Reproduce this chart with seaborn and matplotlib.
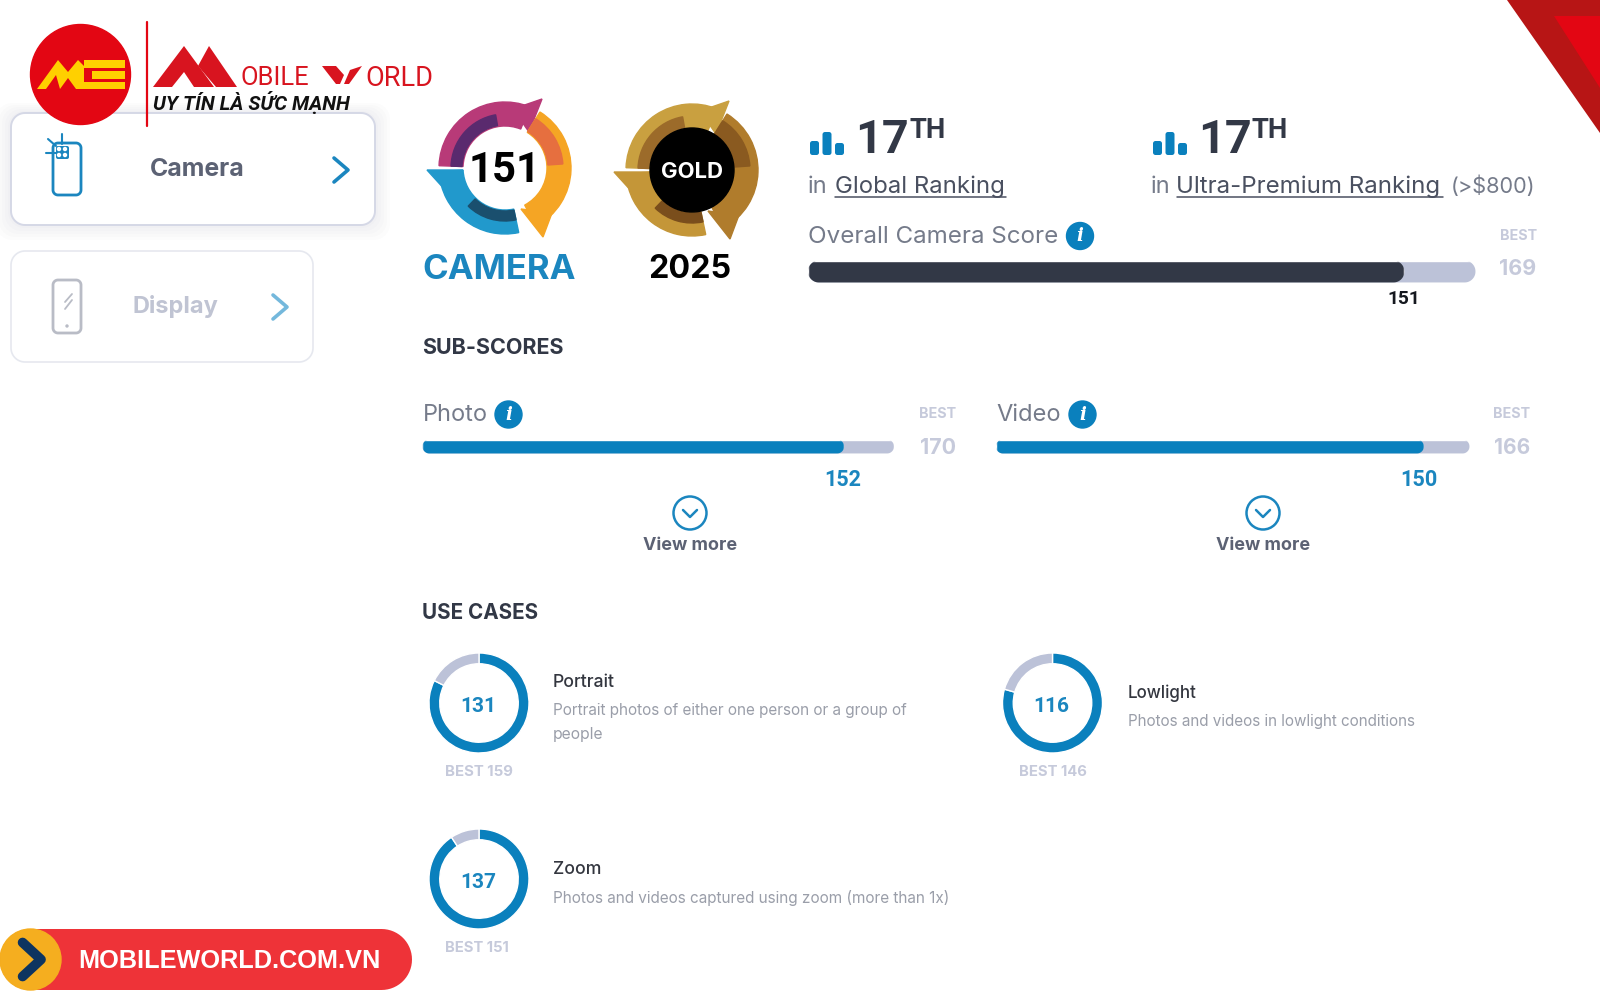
import matplotlib
matplotlib.use("Agg")
import matplotlib.pyplot as plt
import numpy as np
import seaborn as sns
from matplotlib.patches import Circle, Polygon, Wedge

# Data
bar_names = ["Overall Camera Score", "Photo", "Video"]
bar_scores = [151, 152, 150]
bar_bests = [169, 170, 166]

case_names = ["Portrait", "Lowlight", "Zoom"]
case_scores = [131, 116, 137]
case_bests = [159, 146, 151]
case_notes = [
    ["Portrait photos of either one person or a group of", "people"],
    ["Photos and videos in lowlight conditions"],
    ["Photos and videos captured using zoom (more than 1x)"],
]

ranking_value = ["17", "17"]
ranking_names = ["Global Ranking", "Ultra-Premium Ranking"]
rank_bar_heights = [14, 23, 12]

BLUE = "#0a80bd"
TRACK = "#bcc2d8"
DARK = "#323846"
GREY = "#757b8a"
PALE = "#c6cadb"
RED = "#e30613"

sns.set_theme(style="white")
BODY = "Inter"
NUM = "Roboto"
plt.rcParams["font.family"] = [BODY, "DejaVu Sans"]

fig = plt.figure(figsize=(16, 10), dpi=100, facecolor="white")
page = fig.add_axes([0, 0, 1, 1], zorder=10)
page.set_xlim(0, 1600)
page.set_ylim(1000, 0)
page.axis("off")
renderer = fig.canvas.get_renderer()


def box_axes(x, y, w, h, z=3):
    ax = fig.add_axes([x / 1600, 1 - (y + h) / 1000, w / 1600, h / 1000], zorder=z)
    ax.axis("off")
    return ax


def put(x, y, s, width, color=DARK, weight="normal", ha="left", family=None, style="normal", z=5):
    # the size is scaled until the string is as wide as in the picture
    t = page.text(x, y + 4, s, color=color, weight=weight, ha=ha, va="center", style=style,
                  family=family or [BODY, "DejaVu Sans"], fontsize=10, zorder=z)
    t.set_fontsize(10 * width / t.get_window_extent(renderer).width)
    return t


def pill(x, y, w, h, r=None, **kw):
    r = r or h / 2
    a = np.linspace(0, np.pi / 2, 16)
    pts = []
    for cx, cy, start in [(x + w - r, y + r, -np.pi / 2), (x + w - r, y + h - r, 0),
                          (x + r, y + h - r, np.pi / 2), (x + r, y + r, np.pi)]:
        pts += list(zip(cx + r * np.cos(a + start), cy + r * np.sin(a + start)))
    return Polygon(pts, closed=True, transform=page.transData, **kw)


def chevron(x, y, dx, dy, color, lw=2.6, z=6):
    page.plot([x - dx, x + dx, x - dx], [y - dy, y, y + dy], color=color, lw=lw, zorder=z,
              solid_capstyle="round", solid_joinstyle="round")


def info(x, y):
    page.add_patch(Circle((x, y), 13.5, color=BLUE, zorder=5))
    page.text(x, y, "i", color="white", fontsize=13, weight="bold", style="italic",
              family="DejaVu Serif", ha="center", va="center", zorder=6)


def score_bar(x, y, w, h, score, best, color):
    ax = box_axes(x, y, w, h)
    sns.barplot(x=[best], y=["b"], color=TRACK, saturation=1, width=1, ax=ax)
    sns.barplot(x=[score], y=["b"], color=color, saturation=1, width=1, ax=ax)
    ax.set_xlim(0, best)
    ax.set_ylim(0.5, -0.5)
    ax.axis("off")
    ax.patches[0].set_clip_path(pill(x, y, w, h))
    ax.patches[1].set_clip_path(pill(x, y, w * ax.patches[1].get_width() / best, h))


def ring(cx, cy, score, best):
    ax = box_axes(cx - 50, cy - 50, 100, 100)
    ax.pie([score, best - score], colors=[BLUE, TRACK], startangle=90, counterclock=False,
           radius=1, wedgeprops=dict(width=0.215))
    ax.set_xlim(-1, 1)
    ax.set_ylim(-1, 1)


def rank_icon(x, y):
    for i, h in enumerate(rank_bar_heights):
        page.add_patch(pill(x + i * 12.5, y - h, 9, h, r=2.5, color=BLUE, lw=0, zorder=5))


def badge(cx, cy, colors):
    ax = box_axes(cx - 85, cy - 85, 170, 170)
    ax.set_xlim(-85, 85)
    ax.set_ylim(-85, 85)
    top, top_in, right, right_in, low, low_in = colors
    ax.add_patch(Wedge((0, 0), 66, 68, 178, width=24, color=top))
    ax.add_patch(Wedge((0, 0), 54, 100, 178, width=11, color=top_in))
    ax.add_patch(Polygon([(37, 69), (8, 59), (24, 36)], color=top))
    ax.add_patch(Wedge((0, 0), 66, -62, 58, width=24, color=right))
    ax.add_patch(Wedge((0, 0), 58, 4, 58, width=15, color=right_in))
    ax.add_patch(Polygon([(38, -69), (16, -41), (47, -45)], color=right))
    ax.add_patch(Wedge((0, 0), 66, 183, 282, width=24, color=low))
    ax.add_patch(Wedge((0, 0), 53, 226, 282, width=10, color=low_in))
    ax.add_patch(Polygon([(-78, -2), (-42, -2), (-58, -24)], color=low))


# Corner and logo
page.add_patch(Polygon([(1507, 0), (1600, 0), (1600, 133)], color="#b71515", lw=0))
page.add_patch(Polygon([(1554, 16), (1600, 16), (1600, 88)], color=RED, lw=0))

# Side cards
for k in range(6):
    page.add_patch(pill(11 - k * 3, 113 - k * 2, 364 + k * 6, 112 + k * 5, r=16, color="#1c2550",
                        alpha=0.012, lw=0, zorder=1))
page.add_patch(pill(11, 113, 364, 112, r=14, fc="white", ec="#d5d8e6", lw=1.4, zorder=2))
page.add_patch(pill(11, 251, 302, 111, r=14, fc="white", ec="#e6e8ef", lw=1.2, zorder=2))
put(197, 165, "Camera", 95, color="#5c6274", weight="bold", ha="center")
put(175, 302, "Display", 86, color="#c0c4d3", weight="bold", ha="center")
chevron(341, 170, 7, 12, "#1b86bf")
chevron(280, 307, 7, 12, "#74b8dc")
page.add_patch(pill(53, 143, 28, 52, r=5, fc="white", ec="#1b86bf", lw=2, zorder=4))
page.add_patch(pill(56, 146, 13, 13, r=2, fc="#1b86bf", ec="none", zorder=5))
for dx, dy in [(59, 149), (65, 149), (59, 155), (65, 155)]:
    page.add_patch(Circle((dx, dy), 1.5, color="white", zorder=6))
page.plot([62, 62], [134, 144], color="#1b86bf", lw=1.5, zorder=5)
page.plot([46, 56], [153, 153], color="#1b86bf", lw=1.5, zorder=5)
page.plot([48, 56], [139, 146], color="#1b86bf", lw=1.5, zorder=5)
page.add_patch(pill(53, 280, 28, 53, r=5, fc="white", ec="#b9bcc6", lw=2, zorder=4))
page.plot([65, 72], [302, 294], color="#b9bcc6", lw=1.3, zorder=5)
page.plot([65, 72], [309, 300], color="#b9bcc6", lw=1.3, zorder=5)
page.add_patch(Circle((67, 326), 1, color="#b9bcc6", zorder=5))

# Mobile World logo
page.add_patch(Circle((80.5, 74.5), 50, color=RED, zorder=7))
page.plot([146.5, 146.5], [22, 126], color=RED, lw=1.6, zorder=7)
page.add_patch(Polygon([(37, 89), (58, 60), (68, 72), (78, 60), (84, 66), (84, 89), (76, 89),
                        (68, 78), (60, 89), (56, 75), (46, 89)], color="#ffd000", lw=0, zorder=8))
for x0, y0 in [(84, 60), (92, 71), (84, 81.5)]:
    page.add_patch(Polygon([(x0, y0), (125, y0), (125, y0 + 7.5), (x0, y0 + 7.5)],
                           color="#ffd000", lw=0, zorder=8))
page.add_patch(Polygon([(153, 87), (184, 46), (214, 87), (194, 87), (184, 72), (172, 87)], color="#d8141f", lw=0, zorder=7))
page.add_patch(Polygon([(198, 66), (209, 46), (237, 87), (216, 87)], color="#d8141f", lw=0, zorder=7))
page.add_patch(Polygon([(322, 66), (336, 66), (344, 75), (340, 84), (336, 84)], color="#d8141f", lw=0, zorder=7))
page.add_patch(Polygon([(344, 84), (350, 70), (362, 66), (349, 84)], color="#d8141f", lw=0, zorder=7))
put(241, 74, "OBILE", 68, color="#d8141f", family=NUM, z=7)
put(365, 74, "ORLD", 67, color="#d8141f", family=NUM, z=7)
put(153, 99, "UY TÍN LÀ SỨC MẠNH", 196, color="#111111", weight="bold", style="italic", family="Roboto", z=7)

# DXOMARK style badges
badge(505, 168, ["#b83a78", "#5a2a6e", "#f5a524", "#e66f3f", "#2199cc", "#1a4f6e"])
put(505, 166, "151", 72, color="black", weight="bold", ha="center", family=NUM)
put(499, 266, "CAMERA", 153, color="#1b86bf", weight="bold", ha="center")
badge(692, 170, ["#c9a040", "#9c6b2a", "#b07c2c", "#8a5a20", "#c49638", "#7a4e1c"])
put(690, 265, "2025", 83, color="black", weight="bold", ha="center")
page.add_patch(Circle((692, 170), 42, color="black", zorder=4))
put(692, 168, "GOLD", 62, color="white", weight="bold", ha="center")

# Rankings
for x, rank, name, w in zip([808, 1151], ranking_value, ranking_names, [171, 266]):
    rank_icon(x + 2, 155)
    put(x + 47, 136, rank, 54, weight="bold", family=NUM)
    put(x + 101, 126, "TH", 36, weight="bold", family=NUM)
    put(x, 183, "in", 20, color=GREY)
    tx = x + 27 if name == ranking_names[0] else x + 25.5
    put(tx, 183, name, w, color="#4a5060")
    page.plot([tx, tx + w], [197, 197], color="#4a5060", lw=1.1)
put(1451, 182, "(>$800)", 85, color=GREY)

# Overall score
put(808, 233, bar_names[0], 251, color=GREY)
info(1080, 236)
score_bar(808, 260.5, 667.5, 22, bar_scores[0], bar_bests[0], DARK)
put(1537, 232, "BEST", 37, color=PALE, weight="bold", ha="right")
put(1536, 265, str(bar_bests[0]), 37, color=PALE, weight="bold", ha="right")
put(1404, 295, str(bar_scores[0]), 33, color="#15181f", weight="bold", ha="center", family=NUM)

# Sub-scores
put(422.5, 344, "SUB-SCORES", 142, weight="bold")
layout = [(422.5, 471.5, 508.5, 956, 690, 843), (996, 473.5, 1082.5, 1530, 1263, 1419)]
for i, (x, w, ix, rx, mx, sx) in enumerate(layout):
    name, score, best = bar_names[i + 1], bar_scores[i + 1], bar_bests[i + 1]
    put(x, 411, name, 65, color=GREY)
    info(ix, 414.5)
    score_bar(x, 439.5, w, 14, score, best, BLUE)
    put(rx, 410, "BEST", 37, color=PALE, weight="bold", ha="right")
    put(rx, 444, str(best), 36, color=PALE, weight="bold", ha="right")
    put(sx, 475.5, str(score), 37, color="#1b86bf", weight="bold", ha="center", family=NUM)
    page.add_patch(Circle((mx, 513), 16.5, fc="white", ec="#1b86bf", lw=1.8, zorder=4))
    page.plot([mx - 7, mx, mx + 7], [510, 517, 510], color="#1b86bf", lw=1.8, zorder=5,
              solid_capstyle="round")
    put(mx, 541, "View more", 94, color="#5c6274", weight="bold", ha="center")

# Use cases
put(422.5, 609, "USE CASES", 116, weight="bold")
ring_pos = [(479, 703), (1052.5, 703), (479, 879)]
name_pos = [(553, 678.5, 62), (1127.5, 689, 69), (553, 865.5, 48)]
note_pos = [[(707, 358), (730, 51)], [(717.5, 291)], [(894, 401)]]
best_w = [68, 68, 64]
best_dx = [0, 0, -2]
for i, name in enumerate(case_names):
    cx, cy = ring_pos[i]
    ring(cx, cy, case_scores[i], case_bests[i])
    put(cx - 1, cy, str(case_scores[i]), 36, color="#1b86bf", weight="bold", ha="center", family=NUM, z=6)
    put(cx + best_dx[i], cy + 65.5, f"BEST {case_bests[i]}", best_w[i], color=PALE, weight="bold", ha="center")
    nx, ny, nw = name_pos[i]
    put(nx, ny, name, nw, color="#33363f", weight="medium")
    for line, (ly, lw) in zip(case_notes[i], note_pos[i]):
        put(nx, ly, line, lw, color="#9a9ea9")

# Bottom banner
page.add_patch(pill(0, 929, 412, 61, fc="#ee3338", ec="none", zorder=5))
page.add_patch(Circle((30.5, 959.5), 30.5, color="#f5ae1f", zorder=6))
chevron(31.8, 959.5, 9.2, 17, "#0d3460", lw=7, z=7)
put(78, 957.5, "MOBILEWORLD.COM.VN", 302, color="white", weight="bold", family="Liberation Sans", z=7)

fig.savefig("out.png", dpi=100, facecolor="white")
